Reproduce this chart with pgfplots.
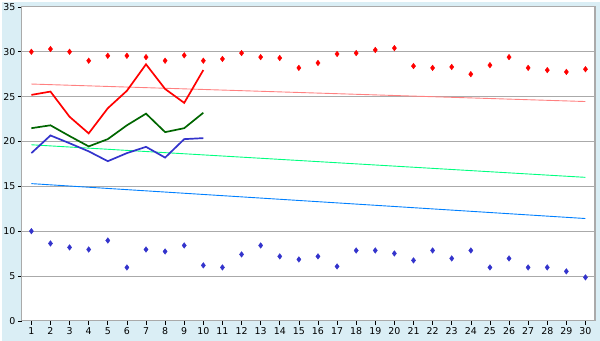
\documentclass[border=0pt]{standalone}
\usepackage{fontspec}
\setmainfont{DejaVu Sans}
\usepackage{pgfplots}
\pgfplotsset{compat=1.18}
\definecolor{bgblue}{RGB}{218,238,245}
\definecolor{gridgray}{RGB}{170,170,170}
\definecolor{cred}{RGB}{255,0,0}
\definecolor{cgreen}{RGB}{0,102,0}
\definecolor{cblue}{RGB}{51,51,204}
\definecolor{tpink}{RGB}{255,128,128}
\definecolor{tgreen}{RGB}{0,255,128}
\definecolor{tblue}{RGB}{0,128,255}
\begin{document}
\begin{tikzpicture}
\fill[bgblue] (-20bp,-20bp) rectangle (580bp,320bp);
\begin{axis}[
  at={(0,0)}, anchor=south west,
  scale only axis, width=575bp, height=315bp,
  xmin=0.5, xmax=30.5, ymin=0, ymax=35,
  xtick={1,...,30}, ytick={0,5,...,35},
  axis background/.style={fill=white},
  axis line style={gridgray, line width=1.2bp},
  ymajorgrids, grid style={gridgray, line width=0.9bp},
  tick style={black, line width=0.6bp},
  xtick pos=bottom, ytick pos=left,
  tick align=outside,
  major tick length=4bp,
  xticklabel style={yshift=1bp},
  yticklabel style={xshift=1bp},
  tick label style={font=\fontsize{9.5}{11}\selectfont},
  /pgf/number format/assume math mode=true,
  clip=false,
]
% trend lines
\addplot[tpink, line width=0.9bp] coordinates {(1,26.4) (30,24.45)};
\addplot[tgreen, line width=0.9bp] coordinates {(1,19.63) (30,16.0)};
\addplot[tblue, line width=0.9bp] coordinates {(1,15.3) (30,11.41)};
% lines
\addplot[cred, line width=1.7bp] coordinates {
(1,25.19) (2,25.56) (3,22.75) (4,20.9) (5,23.7) (6,25.65) (7,28.6) (8,25.85) (9,24.3) (10,27.96)};
\addplot[cgreen, line width=1.7bp] coordinates {
(1,21.48) (2,21.8) (3,20.6) (4,19.45) (5,20.26) (6,21.8) (7,23.1) (8,21.04) (9,21.48) (10,23.2)};
\addplot[cblue, line width=1.7bp] coordinates {
(1,18.7) (2,20.67) (3,19.8) (4,18.9) (5,17.8) (6,18.7) (7,19.4) (8,18.2) (9,20.26) (10,20.37)};
% red points
\addplot[only marks, mark=diamond*, mark size=2.8bp, mark options={draw=cred, fill=cred, line width=0.4bp}] coordinates {
(1,30.0) (2,30.3) (3,30.0) (4,29.0) (5,29.55) (6,29.55) (7,29.4) (8,29.0) (9,29.6) (10,29.0)
(11,29.2) (12,29.85) (13,29.4) (14,29.3) (15,28.2) (16,28.75) (17,29.75) (18,29.85) (19,30.2) (20,30.4)
(21,28.4) (22,28.2) (23,28.3) (24,27.5) (25,28.5) (26,29.4) (27,28.2) (28,27.95) (29,27.75) (30,28.05)};
% blue points
\addplot[only marks, mark=diamond*, mark size=2.8bp, mark options={draw=cblue, fill=cblue, line width=0.4bp}] coordinates {
(1,10.0) (2,8.63) (3,8.19) (4,7.96) (5,8.96) (6,5.96) (7,7.96) (8,7.74) (9,8.41) (10,6.19)
(11,5.96) (12,7.41) (13,8.41) (14,7.19) (15,6.85) (16,7.19) (17,6.07) (18,7.85) (19,7.85) (20,7.52)
(21,6.74) (22,7.85) (23,6.96) (24,7.85) (25,5.96) (26,6.96) (27,5.96) (28,5.96) (29,5.52) (30,4.85)};
\end{axis}
\end{tikzpicture}
\end{document}
